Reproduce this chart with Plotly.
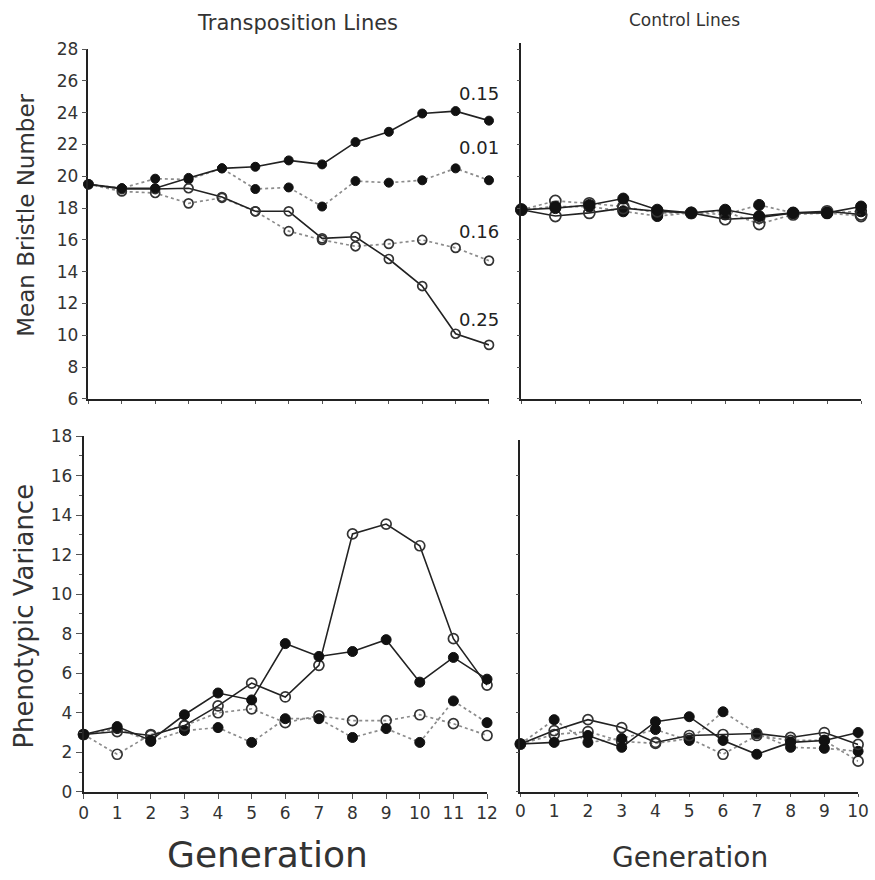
import plotly.graph_objects as go

W, H = 875, 880

# ---------------- data ----------------
gen_t = list(range(13))
gen_c = list(range(11))

# Mean bristle number, transposition lines
mb_015 = [19.5, 19.25, 19.25, 19.9, 20.5, 20.6, 21.0, 20.75, 22.15, 22.8, 23.95, 24.1, 23.5]
mb_001 = [19.5, 19.25, 19.85, 19.8, 20.5, 19.2, 19.3, 18.1, 19.7, 19.6, 19.75, 20.5, 19.75]
mb_016 = [19.5, 19.05, 18.95, 18.3, 18.65, 17.8, 16.55, 16.0, 15.6, 15.75, 16.0, 15.5, 14.7]
mb_025 = [19.5, 19.2, 19.2, 19.25, 18.7, 17.8, 17.8, 16.1, 16.2, 14.8, 13.1, 10.1, 9.4]
line_labels = ["0.15", "0.01", "0.16", "0.25"]
label_y = [25.2, 21.8, 16.5, 11.0]
label_x = 11.7

# Mean bristle number, control lines
mc_fs = [17.9, 18.0, 18.2, 18.6, 17.9, 17.7, 17.9, 17.5, 17.7, 17.7, 18.1]
mc_fd = [17.9, 18.1, 18.1, 17.8, 17.5, 17.7, 17.6, 18.2, 17.7, 17.7, 17.8]
mc_os = [17.9, 17.5, 17.7, 18.0, 17.8, 17.7, 17.3, 17.4, 17.7, 17.8, 17.6]
mc_od = [17.9, 18.45, 18.3, 18.1, 17.7, 17.7, 17.8, 17.0, 17.6, 17.7, 17.5]

# Phenotypic variance, transposition lines
pv_os = [2.9, 3.05, 2.85, 3.35, 4.35, 5.5, 4.8, 6.4, 13.05, 13.55, 12.45, 7.75, 5.4]
pv_fs = [2.9, 3.3, 2.6, 3.9, 5.0, 4.65, 7.5, 6.85, 7.1, 7.7, 5.55, 6.8, 5.7]
pv_od = [2.9, 1.9, 2.9, 3.35, 4.0, 4.2, 3.5, 3.85, 3.6, 3.6, 3.9, 3.45, 2.85]
pv_fd = [2.9, 3.2, 2.55, 3.1, 3.25, 2.5, 3.7, 3.7, 2.75, 3.2, 2.5, 4.6, 3.5]

# Phenotypic variance, control lines
pc_fs = [2.42, 2.5, 2.85, 2.25, 3.55, 3.8, 2.6, 1.9, 2.5, 2.6, 3.0]
pc_fd = [2.42, 3.65, 2.5, 2.7, 3.15, 2.6, 4.05, 2.95, 2.25, 2.2, 2.05]
pc_os = [2.42, 3.1, 3.65, 3.25, 2.5, 2.85, 2.9, 2.95, 2.75, 3.0, 2.4]
pc_od = [2.42, 2.9, 3.05, 2.55, 2.45, 2.7, 1.9, 2.85, 2.6, 2.6, 1.55]

top_ticks = list(range(6, 29, 2))
bot_ticks = list(range(0, 19, 2))

# ---------------- figure ----------------
fig = go.Figure()

SOLID = dict(color="#222", width=1.6, dash="solid")
DOT = dict(color="#8c8c8c", width=1.7, dash="dot")


def filled(s):
    return dict(symbol="circle", size=s, color="#111", line=dict(color="#111", width=1))


def opened(s):
    return dict(symbol="circle-open", size=s, color="#333", line=dict(color="#333", width=1.7))


def add(x, y, xa, ya, line, marker):
    fig.add_trace(go.Scatter(x=x, y=y, xaxis=xa, yaxis=ya, mode="lines+markers",
                             line=line, marker=marker, showlegend=False,
                             cliponaxis=False, hoverinfo="skip"))


# top-left
add(gen_t, mb_016, "x", "y", DOT, opened(9))
add(gen_t, mb_001, "x", "y", DOT, filled(9))
add(gen_t, mb_025, "x", "y", SOLID, opened(9))
add(gen_t, mb_015, "x", "y", SOLID, filled(9))
# top-right
add(gen_c, mc_od, "x2", "y2", DOT, opened(11))
add(gen_c, mc_fd, "x2", "y2", DOT, filled(11))
add(gen_c, mc_os, "x2", "y2", SOLID, opened(11))
add(gen_c, mc_fs, "x2", "y2", SOLID, filled(11))
# bottom-left
add(gen_t, pv_od, "x3", "y3", DOT, opened(10))
add(gen_t, pv_fd, "x3", "y3", DOT, filled(10))
add(gen_t, pv_os, "x3", "y3", SOLID, opened(10))
add(gen_t, pv_fs, "x3", "y3", SOLID, filled(10))
# bottom-right
add(gen_c, pc_od, "x4", "y4", DOT, opened(10))
add(gen_c, pc_fd, "x4", "y4", DOT, filled(10))
add(gen_c, pc_os, "x4", "y4", SOLID, opened(10))
add(gen_c, pc_fs, "x4", "y4", SOLID, filled(10))

FONT = "DejaVu Sans, Liberation Sans, sans-serif"

for txt, ly in zip(line_labels, label_y):
    fig.add_annotation(x=label_x, y=ly, xref="x", yref="y", text=txt, showarrow=False,
                       font=dict(size=18, color="#222", family=FONT))


def px(a):
    return a / W


def py(b):
    return 1 - b / H


axis_common = dict(showgrid=False, zeroline=False, showline=True, linecolor="#222",
                   linewidth=1.5, ticks="outside", tickcolor="#555", ticklen=4,
                   tickfont=dict(size=17, color="#333", family=FONT))

top_b, top_t = 398, 40
top_scale = (top_b - top_t) / 22.0
right_top = 34
bot_b, bot_t = 800, 436
bot_scale = (bot_b - bot_t) / 18.0
right_bot_top = 440

fig.update_layout(
    width=W, height=H, margin=dict(l=0, r=0, t=0, b=0),
    paper_bgcolor="white", plot_bgcolor="white",
    font=dict(family=FONT, color="#333"),
    xaxis=dict(axis_common, domain=[px(85), px(493)], range=[0, 12], anchor="y",
               tickvals=gen_t, showticklabels=False, ticklen=3),
    yaxis=dict(axis_common, domain=[py(top_b), py(top_t)], range=[6, 28], anchor="x",
               tickvals=top_ticks, ticklen=5),
    xaxis2=dict(axis_common, domain=[px(526), px(872)], range=[0, 10], anchor="y2",
                tickvals=gen_c, showticklabels=False, ticklen=3),
    yaxis2=dict(axis_common, domain=[py(top_b), py(right_top)],
                range=[6, 6 + (top_b - right_top) / top_scale], anchor="x2",
                tickvals=top_ticks, showticklabels=False, ticklen=3),
    xaxis3=dict(axis_common, domain=[px(80), px(491)], range=[0, 12], anchor="y3",
                tickvals=gen_t, ticklen=5),
    yaxis3=dict(axis_common, domain=[py(bot_b), py(bot_t)], range=[0, 18], anchor="x3",
                tickvals=bot_ticks, ticklen=6,
                minor=dict(ticks="outside", dtick=1, ticklen=3, tickcolor="#555")),
    xaxis4=dict(axis_common, domain=[px(525), px(869)], range=[0, 10], anchor="y4",
                tickvals=gen_c, ticklen=3),
    yaxis4=dict(axis_common, domain=[py(bot_b), py(right_bot_top)],
                range=[0, (bot_b - right_bot_top) / bot_scale], anchor="x4",
                tickvals=bot_ticks, showticklabels=False, ticklen=3),
)

ann = [
    ("Transposition Lines", 298, 13, 21, 0),
    ("Control Lines", 692, 10, 17, 0),
    ("Mean Bristle Number", 22, 210, 23, -90),
    ("Phenotypic Variance", 19, 620, 26, -90),
    ("Generation", 267, 864, 36, 0),
    ("Generation", 698, 867, 28, 0),
]
for t, x, y, s, ang in ann:
    fig.add_annotation(x=px(x), y=py(y), xref="paper", yref="paper", text=t,
                       showarrow=False, textangle=ang,
                       font=dict(size=s, color="#333", family=FONT),
                       xanchor="center", yanchor="middle")

fig.write_html("out.html", config={"displayModeBar": False},
               post_script="document.body.style.margin='0';")
